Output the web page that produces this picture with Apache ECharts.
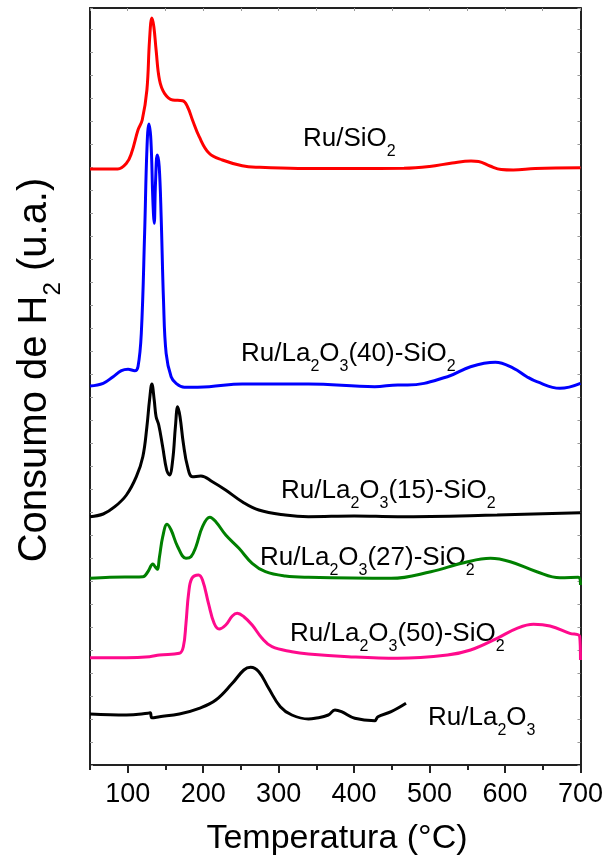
<!DOCTYPE html>
<html><head><meta charset="utf-8">
<script src="https://cdn.jsdelivr.net/npm/echarts@6/dist/echarts.min.js"></script>
<style>html,body{margin:0;padding:0;background:#fff}#c{width:606px;height:861px}</style>
</head><body><div id="c"></div>
<script>
// ---- data (temperature °C, signal in arbitrary units) ----
const xMajorTicks = [100, 200, 300, 400, 500, 600, 700];
const xMinorTicks = [50, 150, 250, 350, 450, 550, 650];
const xTopTicks = [50, 100, 150, 200, 250, 300, 350, 400, 450, 500, 550, 600, 650, 700];

const ruSiO2 = [[50,596],[86.8,596],[98.3,601.7],[104.9,611.7],[113.6,635],[119.2,645],[125.4,675],[128.9,725],[132,747],[134.6,738.3],[137.6,715],[142.1,685],[148.7,671.7],[159.6,665],[172.8,664.3],[179.2,658.3],[185.8,645],[194.7,628.3],[207.9,611.7],[225.4,605],[251.7,599.3],[273.7,597.7],[326,596.5],[400,596.5],[466,596.7],[500,598.5],[530,602],[555,604],[565,603.5],[580,599],[595,595.5],[611,595],[640,596.5],[700,597.3]];
const ruLa40 = [[50,379],[67.5,381.7],[80.7,388.3],[91.7,394.3],[100.4,395.7],[109.2,394.3],[113.6,398.3],[118,431.7],[122.4,532],[125.4,615],[128,641],[130.7,625],[133.3,565],[135.1,541.7],[136.8,581.7],[139.1,610],[141.7,598.3],[144.3,548.3],[147.4,465],[150.9,411.7],[157.5,388.3],[164.1,381.7],[175,377.7],[207.9,378.3],[251.7,381],[339.5,381],[427.3,378.3],[457.9,380],[471,380],[523.7,388.3],[554.3,398.3],[587.2,402.7],[611.4,396.7],[628.9,388.3],[642.1,383.3],[672.8,376.7],[700,381.7]];
const ruLa15 = [[50,248.3],[67.5,251],[82.9,258.3],[98.3,270],[111.4,288.3],[120,308.3],[125.4,338.3],[128.9,365],[132,381],[135.1,365],[137.6,348.3],[141.1,340],[146.3,318.3],[151.6,295],[155.3,290],[159.6,305],[163.2,338.3],[166.2,358.3],[169.3,348.3],[173.7,321.7],[179.3,298.3],[185.9,288.3],[197,289],[212.2,283.3],[229.7,275],[251.7,263.3],[273.7,255],[308.8,250],[339.5,248.3],[400,249],[457.9,248.3],[589.5,250],[700,252.3]];
const ruLa27 = [[50,186.7],[76.3,187.7],[120.1,188.3],[126.7,193.3],[133.3,201],[136.3,198.3],[139.1,195.7],[142.1,208.3],[146.4,228.3],[152.1,240.7],[157.5,235],[166.2,218.3],[177.2,206.7],[183.8,208.3],[190.4,218.3],[199.1,238.3],[208.8,247.7],[216.7,243.3],[229.9,230],[247.4,216.7],[264.9,201.7],[282.5,193.3],[308.8,189],[339.5,187.7],[449.1,186.7],[501.7,193.3],[545.6,202.3],[580.7,206.7],[607,203.3],[642.1,193.3],[672.8,187.3],[697,187.7],[700,180]];
const ruLa50 = [[50,107.3],[98.3,107.3],[128.9,108.3],[142.1,110],[168.4,111.7],[173.7,118.3],[177.2,141.7],[180.7,171.7],[185.1,186.7],[193.8,190],[199.1,185],[207,161.7],[214.5,141.7],[221.1,136],[229.9,140],[238.6,149],[245.1,151.7],[253.9,148.3],[264.9,140],[278,126.7],[291.2,118.3],[317.5,113.3],[339.5,111],[392.1,108.3],[457.9,106.7],[523.7,110],[554.3,115],[589.5,126.7],[615.8,136.7],[637.8,140.7],[659.6,139],[685.9,131.7],[699,128.3],[700,105]];
const ruLa2O3 = [[50,51],[98.3,50],[126.7,51.7],[129.9,52.3],[132,47.3],[142.1,48.3],[168.4,51],[194.7,56.7],[216.7,65],[238.6,81.7],[253.9,95],[262.8,97.7],[273.7,93.3],[286.8,76.7],[302.2,58.3],[317.5,50],[339.5,46],[348.3,46.7],[365.8,50],[374.6,55],[383.3,53.3],[400.9,46.7],[427.2,44.3],[431.6,48.3],[449.1,53.3],[468.8,61.7]];

const seriesNames = ['Ru/SiO2', 'Ru/La2O3(40)-SiO2', 'Ru/La2O3(15)-SiO2', 'Ru/La2O3(27)-SiO2', 'Ru/La2O3(50)-SiO2', 'Ru/La2O3'];
const seriesData = [ruSiO2, ruLa40, ruLa15, ruLa27, ruLa50, ruLa2O3];
const seriesColors = ['#ff0000', '#0000ff', '#000000', '#008000', '#ff0a8c', '#000000'];
const labelTexts = [
  '{a|Ru/SiO}{s|2}',
  '{a|Ru/La}{s|2}{a|O}{s|3}{a|(40)-SiO}{s|2}',
  '{a|Ru/La}{s|2}{a|O}{s|3}{a|(15)-SiO}{s|2}',
  '{a|Ru/La}{s|2}{a|O}{s|3}{a|(27)-SiO}{s|2}',
  '{a|Ru/La}{s|2}{a|O}{s|3}{a|(50)-SiO}{s|2}',
  '{a|Ru/La}{s|2}{a|O}{s|3}'
];
const labelPos = [[303,139],[241,354],[281,491],[260,558],[290,634],[428,718]];
const xTitle = 'Temperatura (°C)';
const yTitle = '{t|Consumo de H}{ts|2}{t| (u.a.)}';

// ---- chart ----
const FONT = 'Liberation Sans, Arial, sans-serif';
const AX = {color: '#222', width: 2};
const chart = echarts.init(document.getElementById('c'), null, {renderer: 'canvas'});
const rich = {
  a: {fontSize: 26, fontFamily: FONT, color: '#000', lineHeight: 30},
  s: {fontSize: 16, fontFamily: FONT, color: '#000', lineHeight: 16, padding: [26, 0, 0, 0]},
  t: {fontSize: 40, fontFamily: FONT, color: '#000', lineHeight: 44},
  ts: {fontSize: 24, fontFamily: FONT, color: '#000', lineHeight: 24, padding: [36, 0, 0, 0]}
};
const graphics = labelTexts.map((t, i) => ({
  type: 'text', x: labelPos[i][0], y: labelPos[i][1], silent: true,
  style: {text: t, rich: rich, align: 'left', verticalAlign: 'middle'}
}));
graphics.push({type: 'text', x: 337, y: 839, silent: true,
  style: {text: xTitle, fontSize: 34, fontFamily: FONT, fill: '#000', align: 'center', verticalAlign: 'middle'}});
graphics.push({type: 'text', x: 35, y: 370, rotation: Math.PI / 2, silent: true,
  style: {text: yTitle, rich: rich, align: 'center', verticalAlign: 'middle'}});

chart.setOption({
  animation: false,
  backgroundColor: '#fff',
  grid: {left: 90, right: 22, top: 8, bottom: 96},
  xAxis: [
    {type: 'value', min: 50, max: 700, position: 'bottom',
     axisLine: {show: true, lineStyle: AX},
     axisTick: {show: true, customValues: xMajorTicks, length: 8, lineStyle: AX},
     axisLabel: {show: true, customValues: xMajorTicks, fontSize: 27, fontFamily: FONT, color: '#000', margin: 16},
     splitLine: {show: false}},
    {type: 'value', min: 50, max: 700, position: 'bottom',
     axisLine: {show: false},
     axisTick: {show: true, customValues: xMinorTicks, length: 5, lineStyle: AX},
     axisLabel: {show: false}, splitLine: {show: false}},
    {type: 'value', min: 50, max: 700, position: 'top',
     axisLine: {show: true, lineStyle: AX},
     axisTick: {show: true, inside: true, customValues: xTopTicks, length: 3, lineStyle: {color: '#999', width: 1}},
     axisLabel: {show: false}, splitLine: {show: false}}
  ],
  yAxis: [
    {type: 'value', min: 0, max: 757, interval: 23, position: 'left',
     axisLine: {show: true, lineStyle: AX},
     axisTick: {show: true, inside: true, length: 3, lineStyle: {color: '#999', width: 1}},
     axisLabel: {show: false}, splitLine: {show: false}},
    {type: 'value', min: 0, max: 757, interval: 23, position: 'right',
     axisLine: {show: true, lineStyle: AX},
     axisTick: {show: true, inside: true, length: 3, lineStyle: {color: '#999', width: 1}},
     axisLabel: {show: false}, splitLine: {show: false}}
  ],
  series: seriesData.map((d, i) => ({
    name: seriesNames[i], type: 'line', data: d, xAxisIndex: 0, yAxisIndex: 0,
    showSymbol: false, smooth: 0.4,
    lineStyle: {color: seriesColors[i], width: 3}, itemStyle: {color: seriesColors[i]},
    clip: true
  })),
  graphic: graphics
});
</script>
</body></html>
